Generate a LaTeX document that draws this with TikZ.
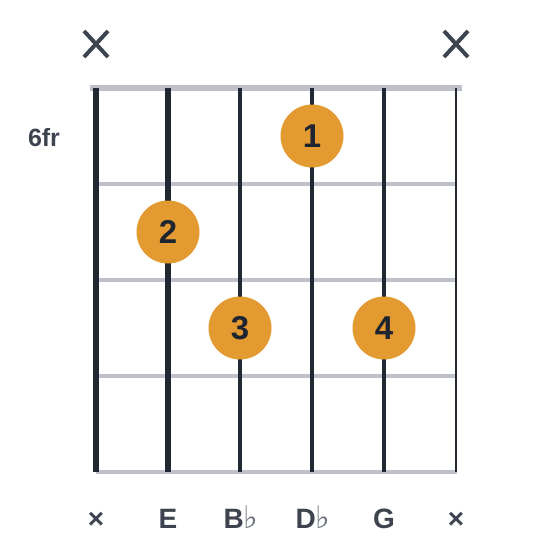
\documentclass[tikz,border=0pt]{standalone}
\usepackage{fontspec}
\setmainfont{Liberation Sans}
\newfontfamily\flatfont{DejaVu Sans}
\definecolor{stringcol}{HTML}{212831}
\definecolor{fretgray}{HTML}{BEC1C9}
\definecolor{labelgray}{HTML}{3D4450}
\definecolor{dotorange}{HTML}{E39A31}
\definecolor{dotnum}{HTML}{1F2530}
\tikzset{
  fret/.style={draw=fretgray, line width=4.5pt},
  fingerdot/.style={circle, fill=dotorange, minimum size=63pt, inner sep=0pt,
    text=dotnum, font=\bfseries\fontsize{33}{33}\selectfont},
  notename/.style={anchor=base, text=labelgray, font=\bfseries\fontsize{28}{28}\selectfont},
  mutemark/.style={draw=labelgray, line width=4pt}
}
\newcommand{\flt}{{\flatfont\mdseries\color{labelgray!75}\fontsize{31}{31}\selectfont ♭}}

\begin{document}
\begin{tikzpicture}[x=1pt,y=-1pt]
\useasboundingbox (0,0) rectangle (560,560);

% nut and frets
\draw[fret, line width=5.5pt] (90,88) -- (462,88);
\foreach \y in {184,280,376,472}
  \draw[fret] (96,\y) -- (457,\y);

% strings, thick to thin
\foreach \x/\w in {96/6,168/5.2,240/4.6,312/4,384/3.4,456/2.7}
  \draw[stringcol, line width=\w pt] (\x,88) -- (\x,472);

% muted strings
\coordinate (mutelow) at (96,44);
\coordinate (mutehigh) at (456,44);
\foreach \m in {mutelow,mutehigh}{
  \draw[mutemark] ([shift={(-12,-13)}]\m) -- ([shift={(12,13)}]\m);
  \draw[mutemark] ([shift={(-12,13)}]\m) -- ([shift={(12,-13)}]\m);
}

% fret number
\node[notename, font=\bfseries\fontsize{25}{25}\selectfont] (fretno) at (44,146) {6fr};

% fingers
\node[fingerdot] (finger1) at (312,136) {1};
\node[fingerdot] (finger2) at (168,232) {2};
\node[fingerdot] (finger3) at (240,328) {3};
\node[fingerdot] (finger4) at (384,328) {4};

% note names
\node[notename] (note1) at (96,528) {×};
\node[notename] (note2) at (168,528) {E};
\node[notename] (note3) at (241,528) {B\flt};
\node[notename] (note4) at (313,528) {D\flt};
\node[notename] (note5) at (384,528) {G};
\node[notename] (note6) at (456,528) {×};
\end{tikzpicture}
\end{document}
